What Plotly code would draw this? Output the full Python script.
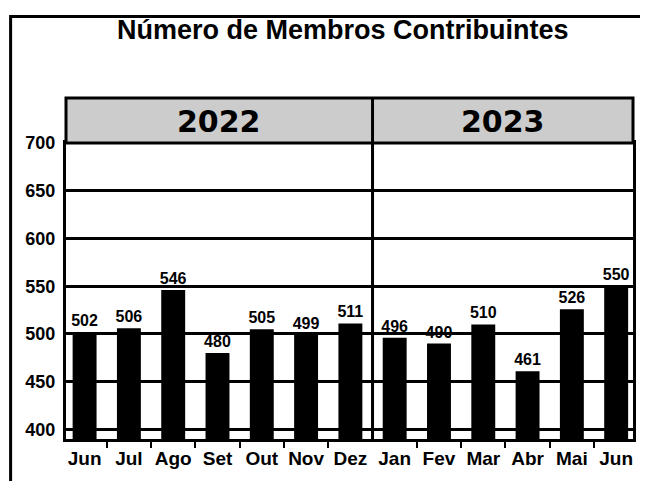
import plotly.graph_objects as go

months = ["Jun", "Jul", "Ago", "Set", "Out", "Nov", "Dez",
          "Jan", "Fev", "Mar", "Abr", "Mai", "Jun"]
years = ["2022", "2022", "2022", "2022", "2022", "2022", "2022",
         "2023", "2023", "2023", "2023", "2023", "2023"]
values = [502, 506, 546, 480, 505, 499, 511, 496, 490, 510, 461, 526, 550]
y_ticks = [400, 450, 500, 550, 600, 650, 700]
title = "Número de Membros Contribuintes"

OFF = 8  # page body margin
W, H = 648 - OFF, 481 - OFF
L, R, T, B = 66 - OFF, 648 - 634, 143 - OFF, 481 - 453
pw, ph = W - L - R, H - T - B
px2x = lambda p: (p - OFF - L) / pw
px2y = lambda p: (H - B - (p - OFF)) / ph

idx = list(range(len(months)))
x_range = [-0.42, len(months) - 1 + 0.38]
split = years.index("2023") - 0.5

bold = dict(family="Liberation Sans, Arial, sans-serif", color="black", weight="bold")

fig = go.Figure(go.Bar(
    x=idx, y=values, marker=dict(color="black", line=dict(width=0)),
    text=[str(v) for v in values], textposition="outside", constraintext="none",
    textfont=dict(size=16, **bold), cliponaxis=False, width=0.54,
))

header_top = px2y(96)
shapes = [
    dict(type="rect", xref="paper", yref="paper", x0=px2x(10.5), x1=1.2,
         y0=-0.3, y1=px2y(10.5), line=dict(color="black", width=3), layer="below"),
    dict(type="rect", xref="paper", yref="paper", x0=0, x1=1, y0=1, y1=header_top,
         fillcolor="#cccccc", line=dict(color="black", width=3)),
    dict(type="line", xref="x", yref="paper", x0=split, x1=split, y0=0, y1=header_top,
         line=dict(color="black", width=3)),
]

annotations = [dict(xref="paper", yref="paper", x=px2x(343), y=px2y(25),
                    xanchor="center", yanchor="middle",
                    text=title, showarrow=False, font=dict(size=27, **bold))]
for yr in dict.fromkeys(years):
    ids = [i for i, y in enumerate(years) if y == yr]
    lo = ids[0] - 0.5 if ids[0] > 0 else x_range[0]
    hi = ids[-1] + 0.5 if ids[-1] < len(months) - 1 else x_range[1]
    annotations.append(dict(xref="x", yref="paper", x=(lo + hi) / 2, y=px2y(121),
                            xanchor="center", yanchor="middle",
                            text=yr, showarrow=False,
                            font=dict(size=30, family="DejaVu Sans", color="black", weight="bold")))

minor_vals = [i + 0.5 for i in idx[:-1] if i + 0.5 != split]

fig.update_layout(
    width=W, height=H, margin=dict(l=L, r=R, t=T, b=B, pad=0),
    paper_bgcolor="white", plot_bgcolor="white", showlegend=False,
    bargap=0.46, shapes=shapes, annotations=annotations,
    xaxis=dict(range=x_range, tickvals=idx, ticktext=months, ticks="",
               tickfont=dict(size=19, **bold), showgrid=False, zeroline=False,
               showline=True, linecolor="black", linewidth=3, mirror=True,
               ticklabelstandoff=0,
               minor=dict(tickvals=minor_vals, ticks="outside", ticklen=6,
                          tickwidth=2, tickcolor="black", showgrid=False)),
    yaxis=dict(range=[390, 700], tickvals=y_ticks, ticks="",
               tickfont=dict(size=18, **bold), showgrid=True, gridcolor="black",
               gridwidth=2.5, zeroline=False, showline=True, linecolor="black",
               linewidth=3, mirror=True, ticklabelstandoff=4),
)

fig.write_html("out.html")
